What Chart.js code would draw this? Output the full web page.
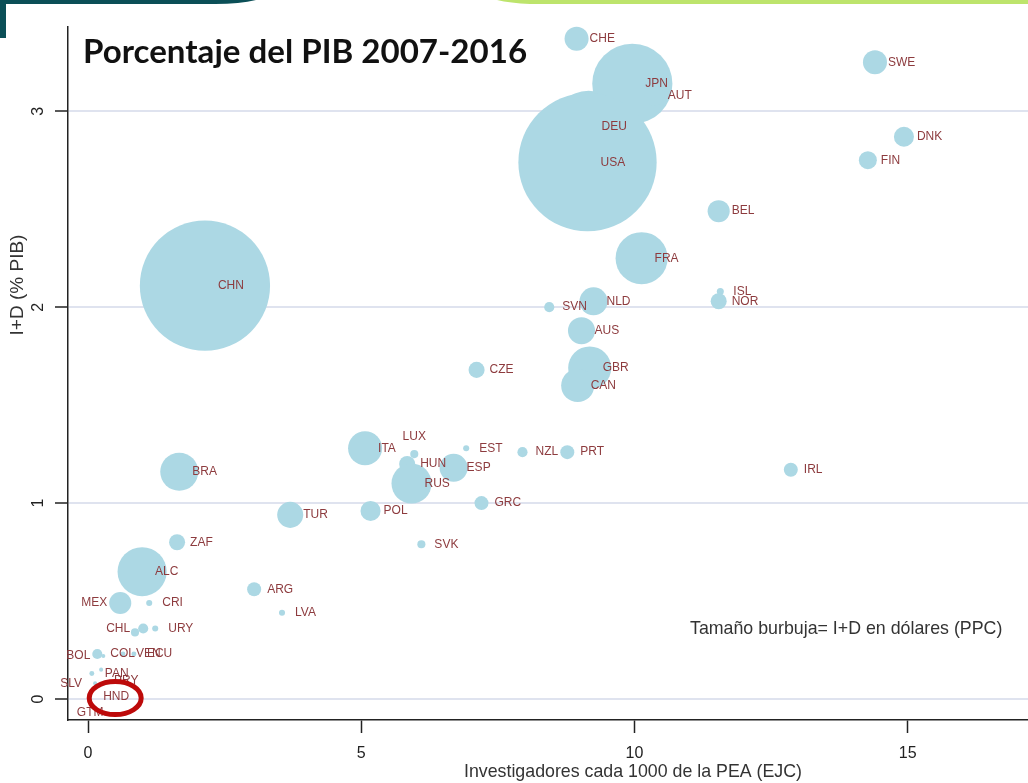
<!DOCTYPE html>
<html lang="es">
<head>
<meta charset="utf-8">
<title>Porcentaje del PIB 2007-2016</title>
<script src="https://cdn.jsdelivr.net/npm/chart.js@4.4.1/dist/chart.umd.min.js"></script>
<style>
  html, body { margin: 0; padding: 0; background: #fff; }
  #grafico { display: block; }
</style>
</head>
<body>
<canvas id="grafico" width="1028" height="783"></canvas>
<script>
// ======= Datos =======
const paises = ["CHE","JPN","AUT","DEU","USA","SWE","DNK","FIN","BEL","FRA",
  "CHN","ISL","NOR","NLD","SVN","AUS","GBR","CAN","CZE","IRL",
  "ITA","LUX","HUN","ESP","RUS","EST","NZL","PRT","GRC","POL",
  "SVK","TUR","BRA","ZAF","ALC","MEX","CRI","ARG","LVA","URY",
  "CHL","","COL","BOL","VEN","ECU","PAN","PRY","SLV","HND","GTM"];

// investigadores cada 1000 de la PEA (EJC)
const investigadores = [8.94, 9.96, 10.37, 9.16, 9.14, 14.40, 14.93, 14.27, 11.54, 10.13,
  2.14, 11.57, 11.54, 9.25, 8.44, 9.03, 9.18, 8.96, 7.11, 12.86,
  5.07, 5.97, 5.84, 6.69, 5.92, 6.92, 7.95, 8.77, 7.20, 5.17,
  6.10, 3.70, 1.67, 1.63, 0.99, 0.59, 1.12, 3.04, 3.55, 1.23,
  1.01, 0.86, 0.17, 0.28, 0.64, 0.84, 0.07, 0.24, 0.13, 0.04, 0.04];

// I+D (% PIB)
const gastoPIB = [3.37, 3.14, 3.08, 2.92, 2.74, 3.25, 2.87, 2.75, 2.49, 2.25,
  2.11, 2.08, 2.03, 2.03, 2.00, 1.88, 1.69, 1.60, 1.68, 1.17,
  1.28, 1.25, 1.20, 1.18, 1.10, 1.28, 1.26, 1.26, 1.00, 0.96,
  0.79, 0.94, 1.16, 0.80, 0.65, 0.49, 0.49, 0.56, 0.44, 0.36,
  0.36, 0.34, 0.23, 0.22, 0.23, 0.23, 0.13, 0.15, 0.08, 0.01, 0.00];

// I+D en dólares (PPC), miles de millones -> tamaño de burbuja
const gastoPPC = [14.1, 157, 9.8, 127, 467, 14.1, 9.8, 7.9, 11.9, 66.3,
  414, 1.2, 6.3, 19.2, 2.5, 17.9, 45.3, 26.7, 6.3, 4.8,
  28.3, 1.6, 6.3, 19.2, 39.2, 0.9, 2.5, 4.8, 4.8, 9.8,
  1.6, 16.6, 35.4, 6.3, 58.8, 11.9, 0.9, 4.8, 0.9, 0.9,
  2.5, 1.6, 2.5, 0.4, 0.6, 0.6, 0.6, 0.4, 0.4, 0.4, 0.4];

const ticksX = [0, 5, 10, 15];
const ticksY = [0, 1, 2, 3];

// posición de la etiqueta (reloj, como en Stata); el resto va a las 3
const posEtiqueta = { MEX: 9, CHL: 9, BOL: 9, SLV: 9, LUX: 12, GTM: 6, PRY: 4 };

const titulo = "Porcentaje del PIB 2007-2016";
const tituloY = "I+D (% PIB)";
const tituloX = "Investigadores cada 1000 de la PEA (EJC)";
const nota = "Tamaño burbuja= I+D en dólares (PPC)";

// ======= Estilos =======
const colorBurbuja = "#acd8e4";
const colorEtiqueta = "#8d3b3e";
const fuente = "'Liberation Sans', Arial, sans-serif";
const escalaRadio = 3.2;

const puntos = paises.map((p, i) => ({
  x: investigadores[i],
  y: gastoPIB[i],
  r: escalaRadio * Math.sqrt(gastoPPC[i])
}));

// ======= Plugins =======
const fondo = {
  id: "fondo",
  beforeDraw(chart) {
    const ctx = chart.ctx;
    ctx.save();
    ctx.fillStyle = "#fff";
    ctx.fillRect(0, 0, chart.width, chart.height);
    // barra verde oscura arriba a la izquierda
    ctx.fillStyle = "#0b4f57";
    ctx.beginPath();
    ctx.moveTo(0, 0);
    ctx.lineTo(256, 0);
    ctx.quadraticCurveTo(240, 4, 215, 4);
    ctx.lineTo(6, 4);
    ctx.lineTo(6, 38);
    ctx.lineTo(0, 38);
    ctx.closePath();
    ctx.fill();
    // banda verde claro arriba a la derecha
    ctx.fillStyle = "#bde46c";
    ctx.beginPath();
    ctx.moveTo(497, 0);
    ctx.lineTo(1028, 0);
    ctx.lineTo(1028, 4);
    ctx.lineTo(530, 4);
    ctx.quadraticCurveTo(510, 3, 497, 0);
    ctx.closePath();
    ctx.fill();
    ctx.restore();
  }
};

const textos = {
  id: "textos",
  afterDatasetsDraw(chart) {
    const ctx = chart.ctx;
    const meta = chart.getDatasetMeta(0);
    ctx.save();

    // etiquetas de los países
    ctx.font = "12px " + fuente;
    ctx.fillStyle = colorEtiqueta;
    ctx.textBaseline = "middle";
    meta.data.forEach((el, i) => {
      const nombre = paises[i];
      if (!nombre) return;
      const pos = posEtiqueta[nombre] || 3;
      let tx = el.x + 13, ty = el.y, align = "left";
      if (pos === 9) { tx = el.x - 13; align = "right"; }
      else if (pos === 12) { tx = el.x; ty = el.y - 17; align = "center"; }
      else if (pos === 6) { tx = el.x; ty = el.y + 14; align = "center"; }
      else if (pos === 4) { ty = el.y + 11; }
      ctx.textAlign = align;
      ctx.fillText(nombre, tx, ty);
    });

    // círculo rojo alrededor de HND
    const iHnd = paises.indexOf("HND");
    const hnd = meta.data[iHnd];
    ctx.strokeStyle = "#bd0a0a";
    ctx.lineWidth = 5;
    ctx.beginPath();
    ctx.ellipse(hnd.x + 25, hnd.y + 1, 26, 16.5, 0, 0, Math.PI * 2);
    ctx.stroke();

    // título
    ctx.fillStyle = "#111";
    ctx.textAlign = "left";
    ctx.textBaseline = "alphabetic";
    ctx.font = "bold 30px Lato, sans-serif";
    const w = ctx.measureText(titulo).width;
    ctx.font = "bold " + (30 * 444 / w).toFixed(1) + "px Lato, sans-serif";
    ctx.fillText(titulo, 83, 63);

    // nota de tamaño
    ctx.font = "17.8px " + fuente;
    ctx.fillStyle = "#333";
    ctx.textBaseline = "middle";
    ctx.fillText(nota, 690, 629);

    // título eje X
    ctx.textAlign = "center";
    ctx.font = "17.8px " + fuente;
    ctx.fillText(tituloX, 633, 772);

    // título eje Y
    ctx.translate(18, 285);
    ctx.rotate(-Math.PI / 2);
    ctx.font = "19px " + fuente;
    ctx.fillText(tituloY, 0, 0);

    ctx.restore();
  }
};

// ======= Gráfico =======
new Chart(document.getElementById("grafico"), {
  type: "bubble",
  data: {
    datasets: [{
      data: puntos,
      backgroundColor: colorBurbuja,
      borderWidth: 0,
      hoverBorderWidth: 0,
      hoverRadius: 0,
      clip: false
    }]
  },
  options: {
    responsive: false,
    animation: false,
    events: [],
    devicePixelRatio: 1,
    layout: { autoPadding: false, padding: { top: 27, right: 0, bottom: 0, left: 0 } },
    plugins: { legend: { display: false }, tooltip: { enabled: false } },
    scales: {
      x: {
        type: "linear",
        min: -0.366,
        max: 17.2,
        afterBuildTicks: s => { s.ticks = ticksX.map(v => ({ value: v })); },
        afterFit: s => { s.height = 63; },
        border: { display: true, color: "#222", width: 1.5 },
        grid: { drawOnChartArea: false, drawTicks: true, tickLength: 13, tickColor: "#222", tickWidth: 1.5 },
        ticks: { font: { family: fuente, size: 16 }, color: "#222", padding: 11, maxRotation: 0 }
      },
      y: {
        type: "linear",
        min: -0.107,
        max: 3.43,
        afterBuildTicks: s => { s.ticks = ticksY.map(v => ({ value: v })); },
        afterFit: s => { s.width = 68; },
        border: { display: true, color: "#222", width: 1.5 },
        grid: { color: "#dfe3ef", lineWidth: 2, drawTicks: true, tickLength: 13, tickColor: "#222", tickWidth: 1.5 },
        ticks: { font: { family: fuente, size: 16 }, color: "#222", padding: 12, minRotation: 90, maxRotation: 90, crossAlign: "center" }
      }
    }
  },
  plugins: [fondo, textos]
});
</script>
</body>
</html>
